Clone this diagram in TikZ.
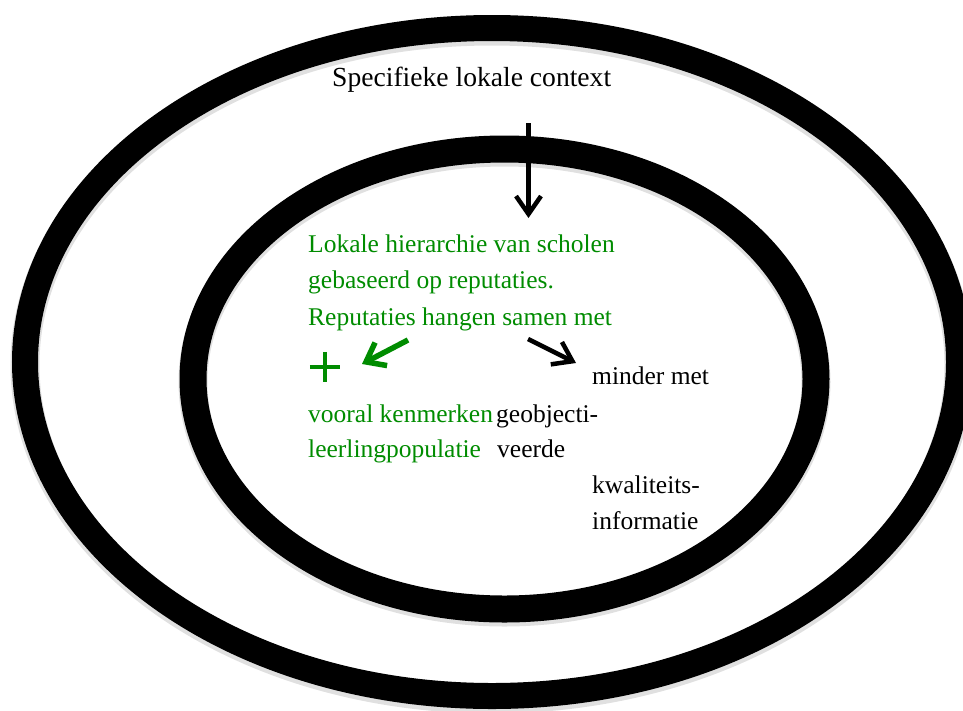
\documentclass[tikz,border=0pt]{standalone}
\usepackage{fontspec}
\setmainfont{Liberation Serif}
\usetikzlibrary{arrows.meta}
\definecolor{tgreen}{RGB}{0,140,0}
\tikzset{
  ring/.style={draw=black, line width=27pt},
  ringshadow/.style={draw=black, opacity=0.12, line width=29pt},
  lbl/.style={inner sep=0pt, anchor=base west, font=\fontsize{25.5}{30}\selectfont},
  glbl/.style={lbl, text=tgreen},
  blkarrow/.style={draw=black, line width=4.5pt, -{Straight Barb[length=18pt,width=25pt,line width=4.5pt]}},
  grnarrow/.style={draw=tgreen, line width=5.5pt, -{Straight Barb[length=17pt,width=26pt,line width=5.5pt]}},
}
\begin{document}
\begin{tikzpicture}[x=1pt,y=-1pt]
\useasboundingbox (0,0) rectangle (963,710);
\fill[white] (0,0) rectangle (963,710);
\begin{scope}
\clip (0,0) rectangle (963,710);
% shadows
\draw[ringshadow] (492,365) ellipse [x radius=467, y radius=334];
\draw[ringshadow] (504.5,382) ellipse [x radius=311.5, y radius=230];
% rings
\draw[ring, line width=26pt] (492,362) ellipse [x radius=467, y radius=334];
\draw[ring] (504.5,379) ellipse [x radius=311.5, y radius=230];
\end{scope}

\node[lbl, font=\fontsize{27.6}{32}\selectfont] (ctx) at (332,86) {Specifieke lokale context};

\node[glbl] (g1) at (308,252) {Lokale hierarchie van scholen};
\node[glbl] (g2) at (308,288) {gebaseerd op reputaties.};
\node[glbl] (g3) at (308,325) {Reputaties hangen samen met};

\node[inner sep=0pt, minimum size=30pt] (plus) at (325,367) {};
\draw[tgreen, line width=4pt] (plus.west) -- (plus.east);
\draw[tgreen, line width=4pt] (plus.north) -- (plus.south);

\node[lbl] (m1) at (592,384) {minder met};
\node[glbl] (v1) at (308,422) {vooral kenmerken};
\node[lbl] (o1) at (496,422) {geobjecti-};
\node[glbl] (v2) at (308,457) {leerlingpopulatie};
\node[lbl] (o2) at (497,457) {veerde};
\node[lbl] (k1) at (592,493) {kwaliteits-};
\node[lbl] (k2) at (592,529) {informatie};

\coordinate (a0) at (528.5,123);
\coordinate (a1) at (528.5,218);
\coordinate (b0) at (408,340);
\coordinate (b1) at (362,364);
\coordinate (c0) at (528,339);
\coordinate (c1) at (576,363);

\draw[blkarrow] (a0) -- (a1);
\draw[grnarrow] (b0) -- (b1);
\draw[blkarrow] (c0) -- (c1);
\end{tikzpicture}
\end{document}
